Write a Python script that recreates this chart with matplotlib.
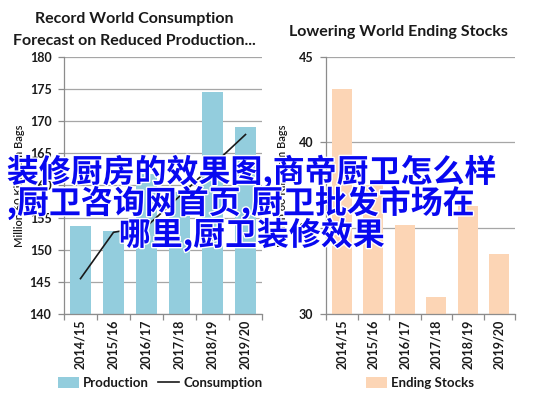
import matplotlib
matplotlib.use("Agg")
import matplotlib.pyplot as plt
import matplotlib.patheffects as pe
import numpy as np

categories = ["2014/15", "2015/16", "2016/17", "2017/18", "2018/19", "2019/20"]
production = [153.7, 152.9, 161.7, 159.0, 174.5, 169.0]
consumption = [145.5, 152.7, 153.6, 158.3, 163.1, 167.9]
ending_stocks = [43.1, 37.5, 35.2, 31.0, 36.3, 33.5]

left_title = ["Record World Consumption", "Forecast on Reduced Production..."]
right_title = "Lowering World Ending Stocks"
ylabel = "Million 60 Kilogram Bags"
overlay_lines = ["装修厨房的效果图,商帝厨卫怎么样", ",厨卫咨询网首页,厨卫批发市场在", "哪里,厨卫装修效果"]

plt.rcParams['font.family'] = ['Lato', 'DejaVu Sans']

W, H = 537, 399
fig = plt.figure(figsize=(W/100, H/100), dpi=100)

def px_axes(l, r, t, b):
    return fig.add_axes([l/W, (H-b)/H, (r-l)/W, (b-t)/H])

def ftext(px, py, s, **kw):
    return fig.text(px/W, (H-py)/H, s, **kw)

ax1 = px_axes(64, 262, 56.7, 314)
ax2 = px_axes(326, 515, 56.7, 314)

blue = "#93CDDD"
peach = "#FCD5B5"
gridc = "#A6A6A6"
spinec = "#8C8C8C"
textc = "#1A1A1A"

x = np.arange(len(categories))

def style(ax, ylim, step):
    ax.set_xlim(-0.5, len(categories)-0.5)
    ax.set_ylim(*ylim)
    ax.set_yticks(np.arange(ylim[0], ylim[1]+0.01, step))
    ax.yaxis.grid(True, color=gridc, linewidth=0.9)
    ax.set_axisbelow(True)
    for s in ["top", "right"]:
        ax.spines[s].set_visible(False)
    for s in ["left", "bottom"]:
        ax.spines[s].set_color(spinec)
        ax.spines[s].set_linewidth(0.9)
    ax.set_xticks(x)
    ax.set_xticklabels(categories, rotation=90, fontsize=9, fontweight='bold', color=textc)
    ax.set_xticks(np.arange(-0.5, len(categories)), minor=True)
    ax.tick_params(axis='x', which='major', length=0, pad=4)
    ax.tick_params(axis='x', which='minor', length=4, color=spinec, width=0.9)
    ax.tick_params(axis='y', length=4, color=spinec, width=0.9, labelsize=9, pad=5)
    for lab in ax.get_yticklabels():
        lab.set_fontweight('bold')
        lab.set_color(textc)

b1 = ax1.bar(x, production, width=0.65, color=blue, label="Production", zorder=2)
ln1, = ax1.plot(x, consumption, color=textc, linewidth=1.2, label="Consumption", zorder=3)
style(ax1, (140, 180), 5)
ax1.set_ylabel(ylabel, fontsize=8, fontweight='semibold', color=textc, labelpad=3)

b2 = ax2.bar(x, ending_stocks, width=0.65, color=peach, label="Ending Stocks", zorder=2)
style(ax2, (30, 45), 5)
ax2.set_ylabel(ylabel, fontsize=8, fontweight='semibold', color=textc, labelpad=8)

ftext(134, 19, left_title[0], ha='center', va='center', fontsize=11.5, fontweight='bold', color=textc)
ftext(134, 41, left_title[1], ha='center', va='center', fontsize=11.5, fontweight='bold', color=textc)
ftext(398, 32, right_title, ha='center', va='center', fontsize=11.5, fontweight='bold', color=textc)

leg_kw = dict(frameon=False, prop={'weight': 'bold', 'size': 9.5}, handlelength=1.6,
              handleheight=0.9, handletextpad=0.3, columnspacing=0.7, borderaxespad=0)
l1 = fig.legend([b1, ln1], ["Production", "Consumption"], loc='center', ncol=2,
                bbox_to_anchor=(160/W, (H-383)/H), **leg_kw)
l2 = fig.legend([b2], ["Ending Stocks"], loc='center', ncol=1,
                bbox_to_anchor=(420/W, (H-383)/H), **leg_kw)
for lg in (l1, l2):
    for t in lg.get_texts():
        t.set_color(textc)

overlay_pos = [(252, 172), (241, 203), (252, 235)]
for (cx, cy), line in zip(overlay_pos, overlay_lines):
    ftext(cx, cy, line, ha='center', va='center', fontsize=23, fontweight='bold',
          family=['Noto Sans CJK SC', 'DejaVu Sans'], color='#0808F0',
          path_effects=[pe.withStroke(linewidth=2.0, foreground='white')], zorder=10)

fig.savefig("out.png", dpi=100)
